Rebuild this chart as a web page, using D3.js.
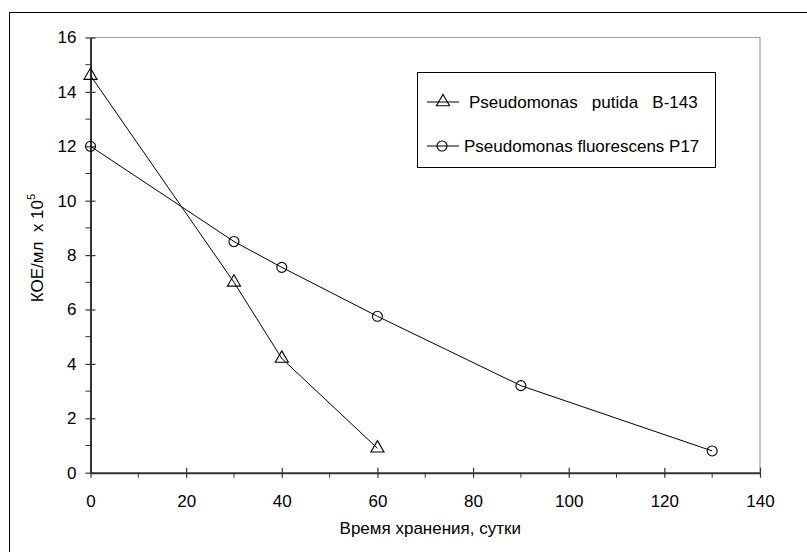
<!DOCTYPE html>
<html>
<head>
<meta charset="utf-8">
<script src="https://cdn.jsdelivr.net/npm/d3@7"></script>
<style>
  body { margin: 0; background: #fff; }
  svg { display: block; font-family: "Liberation Sans", Arial, sans-serif; }
</style>
</head>
<body>
<svg id="chart" width="807" height="552"></svg>
<script>
const putidaDays = [0, 30, 40, 60];
const putidaCfu = [14.6, 7.0, 4.2, 0.9];
const fluorDays = [0, 30, 40, 60, 90, 130];
const fluorCfu = [12.0, 8.5, 7.55, 5.75, 3.2, 0.8];
const xTicks = [0, 20, 40, 60, 80, 100, 120, 140];
const yTicks = [0, 2, 4, 6, 8, 10, 12, 14, 16];
const seriesNames = ["Pseudomonas   putida   B-143", "Pseudomonas fluorescens P17"];

const svg = d3.select("#chart");
const plotLeft = 90.5, plotRight = 760, plotTop = 37.5, plotBottom = 472.7;

const x = d3.scaleLinear().domain([0, 140]).range([plotLeft, plotRight]);
const y = d3.scaleLinear().domain([0, 16]).range([plotBottom, plotTop]);

// outer frame (only left and top visible in the picture)
svg.append("rect")
  .attr("x", 9.5).attr("y", 12.5)
  .attr("width", 820).attr("height", 600)
  .attr("fill", "none").attr("stroke", "#000").attr("stroke-width", 1);

// plot frame: top and right grey
svg.append("path")
  .attr("d", `M${plotLeft},${plotTop}H${plotRight}V${plotBottom}`)
  .attr("fill", "none").attr("stroke", "#a0a0a0").attr("stroke-width", 1.2);

// minor ticks
const axisColor = "#333";
svg.append("g").selectAll("line")
  .data(d3.range(1, 16, 2))
  .join("line")
  .attr("x1", plotLeft - 5).attr("x2", plotLeft)
  .attr("y1", (d) => y(d)).attr("y2", (d) => y(d))
  .attr("stroke", axisColor);
svg.append("g").selectAll("line")
  .data(d3.range(10, 140, 20))
  .join("line")
  .attr("x1", (d) => x(d)).attr("x2", (d) => x(d))
  .attr("y1", plotBottom).attr("y2", plotBottom + 5)
  .attr("stroke", axisColor);

// axes
const yAxis = svg.append("g")
  .attr("transform", `translate(${plotLeft},0)`)
  .call(d3.axisLeft(y).tickValues(yTicks).tickSizeInner(5).tickSizeOuter(0).tickPadding(9));
const xAxis = svg.append("g")
  .attr("transform", `translate(0,${plotBottom})`)
  .call(d3.axisBottom(x).tickValues(xTicks).tickSizeInner(5).tickSizeOuter(0).tickPadding(17));

[yAxis, xAxis].forEach((g) => {
  g.select(".domain").attr("stroke", axisColor).attr("stroke-width", 2);
  g.selectAll(".tick line").attr("stroke", axisColor).attr("stroke-width", 1.2);
  g.selectAll("text").attr("font-size", 17).attr("fill", "#000")
    .attr("font-family", "Liberation Sans, Arial, sans-serif");
});
// major ticks cross the axis
yAxis.selectAll(".tick line").attr("x1", 5);
xAxis.selectAll(".tick line").attr("y1", -5);

// series
const line = d3.line().x((d) => x(d[0])).y((d) => y(d[1]));
const putida = putidaDays.map((d, i) => [d, putidaCfu[i]]);
const fluor = fluorDays.map((d, i) => [d, fluorCfu[i]]);

svg.append("path").datum(putida).attr("d", line)
  .attr("fill", "none").attr("stroke", "#000").attr("stroke-width", 1);
svg.append("path").datum(fluor).attr("d", line)
  .attr("fill", "none").attr("stroke", "#000").attr("stroke-width", 1);

const tri = d3.symbol().type(d3.symbolTriangle).size(75);
function triangle(g, cx, cy) {
  g.append("path").attr("d", tri).attr("transform", `translate(${cx},${cy})`)
    .attr("fill", "none").attr("stroke", "#000").attr("stroke-width", 1.1);
}
function circle(g, cx, cy) {
  g.append("circle").attr("cx", cx).attr("cy", cy).attr("r", 5)
    .attr("fill", "none").attr("stroke", "#000").attr("stroke-width", 1.1);
}

const marks = svg.append("g");
putida.forEach((d) => triangle(marks, x(d[0]), y(d[1])));
fluor.forEach((d) => circle(marks, x(d[0]), y(d[1])));

// axis titles
svg.append("text")
  .attr("x", (plotLeft + plotRight) / 2 + 5).attr("y", 534)
  .attr("text-anchor", "middle").attr("font-size", 17)
  .text("Время хранения, сутки");

const yTitle = svg.append("text")
  .attr("transform", "translate(43,248) rotate(-90)")
  .attr("text-anchor", "middle").attr("font-size", 17)
  .style("white-space", "pre");
yTitle.append("tspan").text("КОЕ/мл  x 10");
yTitle.append("tspan").attr("font-size", 11).attr("dy", -8).text("5");

// legend
const legend = svg.append("g");
legend.append("rect")
  .attr("x", 417.5).attr("y", 72.5).attr("width", 298).attr("height", 95)
  .attr("fill", "#fff").attr("stroke", "#000").attr("stroke-width", 1);

const rowsY = [102, 146];
rowsY.forEach((ry, i) => {
  legend.append("line").attr("x1", 427).attr("x2", 459).attr("y1", ry).attr("y2", ry)
    .attr("stroke", "#000");
  if (i === 0) triangle(legend, 443, ry); else circle(legend, 442, ry);
  legend.append("text")
    .attr("x", i === 0 ? 469 : 464).attr("y", ry + 6)
    .attr("font-size", 17)
    .style("white-space", "pre")
    .text(seriesNames[i]);
});
</script>
</body>
</html>
